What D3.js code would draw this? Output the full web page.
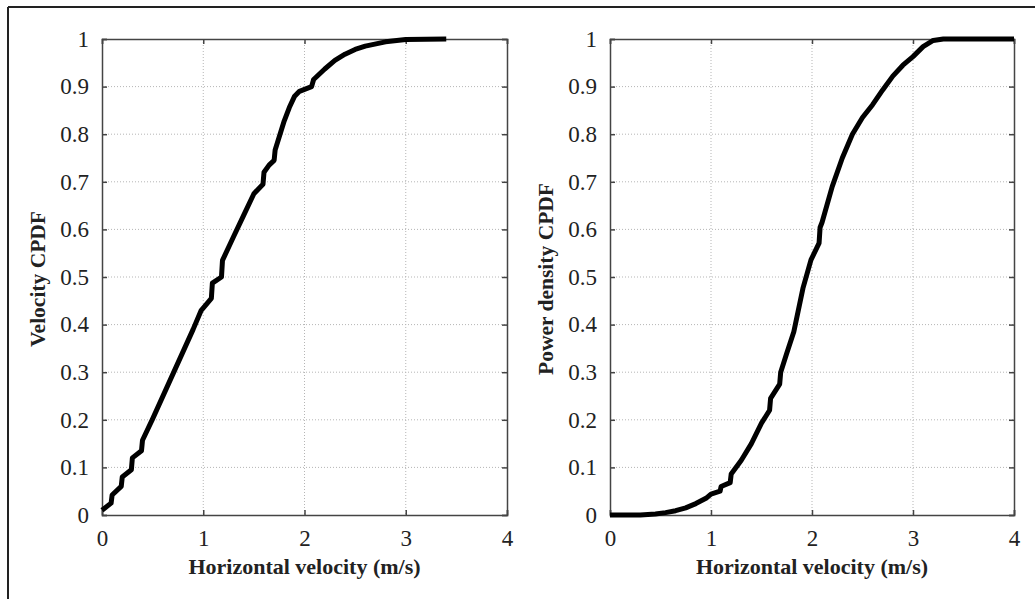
<!DOCTYPE html>
<html>
<head>
<meta charset="utf-8">
<script src="https://cdn.jsdelivr.net/npm/d3@7/dist/d3.min.js"></script>
<style>
  html, body { margin: 0; padding: 0; background: #fff; }
  svg { display: block; }
</style>
</head>
<body>
<svg id="chart" width="1035" height="599"></svg>
<script>
// ---- Data ----
const xTicks = [0, 1, 2, 3, 4];
const yTicks = [0, 0.1, 0.2, 0.3, 0.4, 0.5, 0.6, 0.7, 0.8, 0.9, 1];
const xTitle = "Horizontal velocity (m/s)";
const leftTitle = "Velocity CPDF";
const rightTitle = "Power density CPDF";

const leftV = [0, 0.09, 0.1, 0.19, 0.2, 0.29, 0.3, 0.39, 0.4, 0.5, 0.7, 0.9, 0.98, 1.02, 1.08, 1.09, 1.18, 1.19, 1.3, 1.4, 1.5, 1.59, 1.6, 1.65, 1.7, 1.71, 1.8, 1.85, 1.9, 1.95, 2.07, 2.09, 2.2, 2.3, 2.4, 2.5, 2.6, 2.8, 3.0, 3.4];
const leftP = [0.01, 0.025, 0.042, 0.06, 0.08, 0.095, 0.12, 0.135, 0.157, 0.202, 0.296, 0.39, 0.43, 0.44, 0.455, 0.487, 0.50, 0.535, 0.585, 0.63, 0.675, 0.695, 0.72, 0.735, 0.745, 0.767, 0.828, 0.856, 0.879, 0.89, 0.90, 0.915, 0.937, 0.955, 0.968, 0.978, 0.985, 0.994, 0.999, 1.0];

const rightV = [0, 0.3, 0.45, 0.55, 0.65, 0.75, 0.85, 0.95, 1.0, 1.09, 1.1, 1.19, 1.2, 1.3, 1.4, 1.5, 1.58, 1.59, 1.68, 1.69, 1.75, 1.82, 1.91, 1.99, 2.07, 2.08, 2.1, 2.2, 2.3, 2.4, 2.5, 2.6, 2.7, 2.8, 2.9, 3.0, 3.1, 3.2, 3.3, 4.0];
const rightP = [0, 0, 0.002, 0.005, 0.009, 0.015, 0.024, 0.035, 0.044, 0.05, 0.06, 0.068, 0.086, 0.115, 0.15, 0.193, 0.22, 0.245, 0.275, 0.30, 0.34, 0.385, 0.476, 0.536, 0.571, 0.604, 0.615, 0.69, 0.75, 0.80, 0.835, 0.862, 0.893, 0.922, 0.945, 0.963, 0.984, 0.997, 1.0, 1.0];

// ---- Drawing ----
const svg = d3.select("#chart");
const serif = "'Liberation Serif', 'Times New Roman', serif";

// outer frame (top and left edges)
svg.append("line").attr("x1", 8).attr("x2", 1035).attr("y1", 7).attr("y2", 7)
  .attr("stroke", "#222").attr("stroke-width", 2);
svg.append("line").attr("x1", 8).attr("x2", 8).attr("y1", 7).attr("y2", 599)
  .attr("stroke", "#222").attr("stroke-width", 2);

function panel(x0, x1, vs, ps, title) {
  const top = 39, bottom = 515;
  const x = d3.scaleLinear().domain([0, 4]).range([x0, x1]);
  const y = d3.scaleLinear().domain([0, 1]).range([bottom, top]);
  const g = svg.append("g");

  // grid
  g.append("g").selectAll("line").data(xTicks.slice(1, -1)).join("line")
    .attr("x1", d => x(d)).attr("x2", d => x(d)).attr("y1", top).attr("y2", bottom)
    .attr("stroke", "#b5b5b5").attr("stroke-width", 1).attr("stroke-dasharray", "1,2");
  g.append("g").selectAll("line").data(yTicks.slice(1, -1)).join("line")
    .attr("x1", x0).attr("x2", x1).attr("y1", d => y(d)).attr("y2", d => y(d))
    .attr("stroke", "#b5b5b5").attr("stroke-width", 1).attr("stroke-dasharray", "1,2");

  // axes (ticks inward on all sides)
  const tl = 5;
  const bx = g.append("g").attr("transform", `translate(0,${bottom})`)
    .call(d3.axisBottom(x).tickValues(xTicks).tickSize(-tl).tickPadding(15).tickFormat(d3.format("d")));
  const tx = g.append("g").attr("transform", `translate(0,${top})`)
    .call(d3.axisTop(x).tickValues(xTicks).tickSize(-tl).tickFormat(""));
  const ly = g.append("g").attr("transform", `translate(${x0},0)`)
    .call(d3.axisLeft(y).tickValues(yTicks).tickSize(-tl).tickPadding(13).tickFormat(d => d === 0 || d === 1 ? d3.format("d")(d) : d3.format(".1f")(d)));
  const ry = g.append("g").attr("transform", `translate(${x1},0)`)
    .call(d3.axisRight(y).tickValues(yTicks).tickSize(-tl).tickFormat(""));
  [bx, tx, ly, ry].forEach(a => {
    a.selectAll(".domain").attr("stroke", "#444").attr("stroke-width", 1.5);
    a.selectAll(".tick line").attr("stroke", "#444").attr("stroke-width", 1.5);
    a.selectAll("text").attr("font-family", serif).attr("font-size", 23).attr("fill", "#222");
  });

  // curve
  const line = d3.line().x(d => x(d[0])).y(d => y(d[1]));
  g.append("path").datum(vs.map((v, i) => [v, ps[i]]))
    .attr("d", line).attr("fill", "none").attr("stroke", "#000")
    .attr("stroke-width", 5).attr("stroke-linejoin", "round").attr("stroke-linecap", "butt");

  // titles
  g.append("text").attr("x", (x0 + x1) / 2).attr("y", 574).attr("text-anchor", "middle")
    .attr("font-family", serif).attr("font-weight", "bold").attr("font-size", 22).attr("fill", "#222")
    .text(xTitle);
  g.append("text").attr("transform", `translate(${x0 - 57},${(top + bottom) / 2 + 2}) rotate(-90)`)
    .attr("text-anchor", "middle")
    .attr("font-family", serif).attr("font-weight", "bold").attr("font-size", 21.5).attr("fill", "#222")
    .text(title);
}

panel(102, 507, leftV, leftP, leftTitle);
panel(610, 1014, rightV, rightP, rightTitle);
</script>
</body>
</html>
